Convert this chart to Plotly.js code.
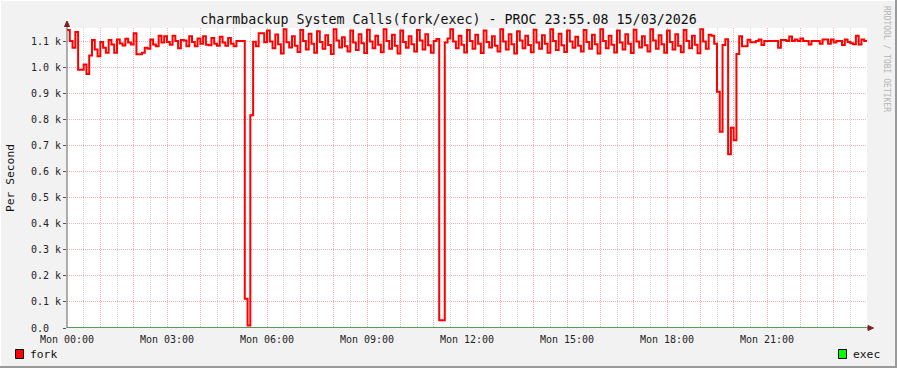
<!DOCTYPE html>
<html>
<head>
<meta charset="utf-8">
<script src="https://cdn.plot.ly/plotly-3.0.1.min.js"></script>
<style>html,body{margin:0;padding:0;background:#f2f2f2;}#chart{width:897px;height:368px;}</style>
</head>
<body>
<div id="chart"></div>
<script>
// fork rate in thousands per second, one value per 5-minute step starting Mon 00:00
const fork = [
  1.142,1.100,1.074,1.135,0.990,0.990,1.010,0.974,1.045,1.104,1.068,1.042,
  1.096,1.074,1.055,1.104,1.087,1.055,1.106,1.091,1.083,1.109,1.094,1.087,
  1.130,1.049,1.049,1.055,1.074,1.070,1.106,1.087,1.080,1.120,1.094,1.118,
  1.096,1.086,1.120,1.100,1.072,1.104,1.102,1.080,1.118,1.096,1.080,1.110,
  1.090,1.118,1.086,1.084,1.112,1.090,1.082,1.116,1.094,1.082,1.112,1.090,
  1.080,1.100,1.100,1.100,0.112,0.010,0.816,1.097,1.080,1.130,1.130,1.095,
  1.140,1.098,1.072,1.125,1.088,1.052,1.145,1.095,1.075,1.118,1.082,1.058,
  1.142,1.100,1.068,1.128,1.090,1.055,1.138,1.096,1.070,1.122,1.085,1.050,
  1.145,1.102,1.075,1.115,1.080,1.060,1.140,1.094,1.066,1.126,1.092,1.054,
  1.143,1.098,1.072,1.120,1.086,1.057,1.145,1.100,1.070,1.124,1.082,1.052,
  1.140,1.096,1.074,1.118,1.088,1.060,1.142,1.102,1.068,1.126,1.084,1.055,
  1.100,1.108,0.030,0.030,1.094,1.110,1.145,1.098,1.072,1.120,1.086,1.056,
  1.142,1.100,1.070,1.124,1.090,1.054,1.140,1.096,1.075,1.118,1.082,1.060,
  1.145,1.098,1.068,1.126,1.088,1.052,1.138,1.102,1.072,1.120,1.085,1.057,
  1.143,1.094,1.070,1.122,1.090,1.055,1.145,1.100,1.066,1.128,1.084,1.058,
  1.140,1.098,1.074,1.116,1.082,1.060,1.142,1.096,1.070,1.124,1.088,1.052,
  1.145,1.100,1.072,1.120,1.086,1.056,1.140,1.094,1.068,1.126,1.090,1.054,
  1.143,1.098,1.075,1.118,1.084,1.060,1.145,1.102,1.070,1.122,1.088,1.055,
  1.140,1.096,1.068,1.126,1.082,1.057,1.142,1.100,1.072,1.120,1.086,1.053,
  1.145,1.098,1.070,1.124,1.120,1.090,0.906,0.752,1.085,1.107,0.666,0.768,
  0.720,1.050,1.118,1.080,1.080,1.105,1.095,1.095,1.100,1.106,1.085,1.100,
  1.100,1.100,1.100,1.100,1.074,1.104,1.104,1.100,1.117,1.100,1.106,1.100,
  1.110,1.100,1.100,1.087,1.100,1.100,1.100,1.090,1.106,1.106,1.090,1.106,
  1.094,1.100,1.100,1.085,1.106,1.096,1.092,1.088,1.120,1.087,1.106,1.100
];
// exec rate, one value per hour
const exec = [0,0,0,0,0,0,0,0,0,0,0,0,0,0,0,0,0,0,0,0,0,0,0,0,0];
const hourTicks = [0,1,2,3,4,5,6,7,8,9,10,11,12,13,14,15,16,17,18,19,20,21,22,23,24];
const hourLabels = ["Mon 00:00","","","Mon 03:00","","","Mon 06:00","","","Mon 09:00","","",
  "Mon 12:00","","","Mon 15:00","","","Mon 18:00","","","Mon 21:00","","",""];
const yTicks = [0,0.1,0.2,0.3,0.4,0.5,0.6,0.7,0.8,0.9,1.0,1.1];
const yLabels = ["0.0\u00a0\u00a0","0.1 k","0.2 k","0.3 k","0.4 k","0.5 k","0.6 k","0.7 k","0.8 k","0.9 k","1.0 k","1.1 k"];
const titleText = "charmbackup System Calls(fork/exec) - PROC 23:55.08 15/03/2026";
const seriesNames = ["fork","exec"];

const forkX = fork.map((v,i)=>i/12).concat([24]);
const forkY = fork.concat([fork[fork.length-1]]);
const execX = exec.map((v,i)=>i);

const MONO = "DejaVu Sans Mono";
const traces = [
  {x: execX, y: exec, type:'scatter', mode:'lines', line:{color:'#1f7a1f', width:1.5, shape:'hv'}, hoverinfo:'skip'},
  {x: forkX, y: forkY, type:'scatter', mode:'lines', line:{color:'#ff0000', width:2, shape:'hv'}, hoverinfo:'skip'}
];

const W=800, H=300, L=67, T=28;
const px = x => (x-L)/W;
const py = y => (T+H-y)/H;

const layout = {
  width:897, height:368,
  margin:{l:67, r:30, t:28, b:40, pad:0},
  paper_bgcolor:'#f2f2f2', plot_bgcolor:'#ffffff',
  showlegend:false,
  font:{family:MONO, size:10, color:'#222'},
  title:{text:titleText, font:{family:MONO, size:13.3, color:'#111'}, x:0.5, xanchor:'center', xref:'container', y:1-19/368, yanchor:'middle', yref:'container'},
  xaxis:{range:[0,24], tickmode:'array', tickvals:hourTicks, ticktext:hourLabels,
    showgrid:true, gridcolor:'#f6b0b0', griddash:'1px,1px', gridwidth:1,
    zeroline:false, showline:false, ticks:'', ticklabelstandoff:4, tickfont:{family:MONO,size:10,color:'#222'},
    minor:{dtick:0.5, showgrid:true, gridcolor:'#d4d4d4', griddash:'1px,1px', gridwidth:1, ticks:''},
    fixedrange:true},
  yaxis:{range:[0,1.15], tickmode:'array', tickvals:yTicks, ticktext:yLabels,
    showgrid:true, gridcolor:'#f6b0b0', griddash:'1px,1px', gridwidth:1,
    zeroline:false, showline:false, ticks:'outside', ticklen:3, tickcolor:'#555',
    tickfont:{family:MONO,size:10,color:'#222'}, fixedrange:true},
  shapes:[
    {type:'line', xref:'paper', yref:'paper', x0:0, x1:0, y0:0, y1:py(25), line:{color:'#606060', width:1}},
    {type:'path', xref:'paper', yref:'paper', path:`M ${px(64.5)} ${py(26.5)} L ${px(69.5)} ${py(26.5)} L ${px(67)} ${py(21)} Z`, fillcolor:'#7f1f1f', line:{color:'#7f1f1f', width:1}},
    {type:'line', xref:'paper', yref:'paper', x0:1, x1:px(870), y0:0, y1:0, line:{color:'#606060', width:1}},
    {type:'path', xref:'paper', yref:'paper', path:`M ${px(868)} ${py(325.5)} L ${px(868)} ${py(330.5)} L ${px(873.5)} ${py(328)} Z`, fillcolor:'#7f1f1f', line:{color:'#7f1f1f', width:1}},
    {type:'rect', xref:'paper', yref:'paper', x0:px(15.5), x1:px(23.5), y0:py(349.5), y1:py(358.5), fillcolor:'#ff0000', line:{color:'#000', width:1}},
    {type:'rect', xref:'paper', yref:'paper', x0:px(838.5), x1:px(846.5), y0:py(349.5), y1:py(358.5), fillcolor:'#00ff00', line:{color:'#000', width:1}},
    {type:'line', xref:'paper', yref:'paper', x0:px(0), x1:px(897), y0:py(367), y1:py(367), line:{color:'#9a9a9a', width:2}},
    {type:'line', xref:'paper', yref:'paper', x0:px(896), x1:px(896), y0:py(0), y1:py(368), line:{color:'#9a9a9a', width:2}},
    {type:'line', xref:'paper', yref:'paper', x0:px(0), x1:px(895), y0:py(0.5), y1:py(0.5), line:{color:'#ffffff', width:1}},
    {type:'line', xref:'paper', yref:'paper', x0:px(0.5), x1:px(0.5), y0:py(0), y1:py(366), line:{color:'#ffffff', width:1}}
  ],
  annotations:[
    {text:'Per Second', xref:'paper', yref:'paper', x:px(10), y:py(178), textangle:-90, showarrow:false, xanchor:'center', yanchor:'middle', font:{family:MONO, size:11.3, color:'#111'}},
    {text:'RRDTOOL / TOBI OETIKER', xref:'paper', yref:'paper', x:px(887), y:py(59), textangle:90, showarrow:false, xanchor:'center', yanchor:'middle', font:{family:MONO, size:8, color:'#b4b4b4'}},
    {text:seriesNames[0], xref:'paper', yref:'paper', x:px(28), y:py(354), showarrow:false, xanchor:'left', yanchor:'middle', font:{family:MONO, size:11.3, color:'#111'}},
    {text:seriesNames[1], xref:'paper', yref:'paper', x:px(851), y:py(354), showarrow:false, xanchor:'left', yanchor:'middle', font:{family:MONO, size:11.3, color:'#111'}}
  ]
};
Plotly.newPlot('chart', traces, layout, {staticPlot:true, displayModeBar:false});
</script>
</body>
</html>
